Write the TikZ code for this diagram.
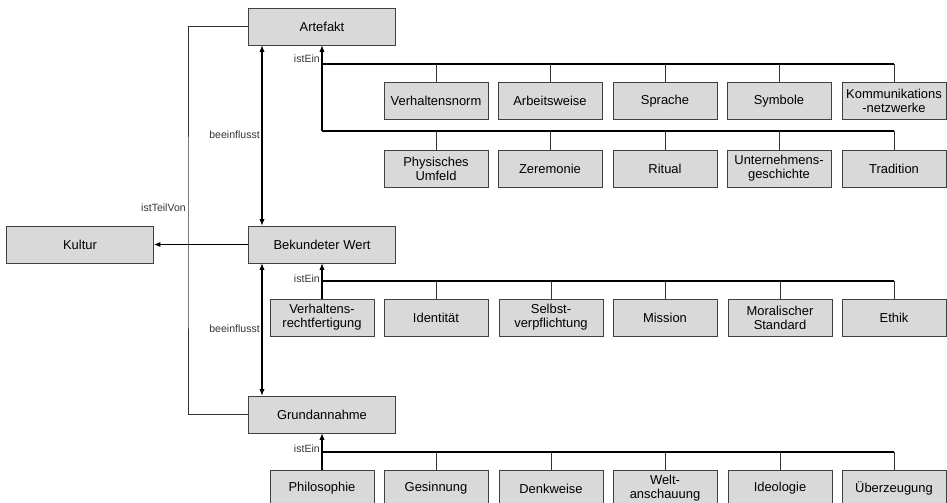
\documentclass[tikz,border=0pt]{standalone}
\usepackage{fontspec}
\setmainfont{Liberation Sans}
\usepackage{tikz}
\usetikzlibrary{arrows.meta}

\begin{document}
\begin{tikzpicture}[
			x=0.75pt,
			y=-0.75pt,
			>={Latex[length=5pt,width=4pt]},
			line join=miter,
			konzept/.style={
				draw=black!75,
				fill=black!15,
				inner sep=0pt,
				minimum width=110.25pt,
				minimum height=27.75pt,
				font=\fontsize{9.7}{10.5}\selectfont
			},
			kind/.style={
				konzept,
				minimum width=78pt,
				align=center
			},
			etikett/.style={
				inner sep=0pt,
				text=black!80,
				font=\fontsize{7.9}{9}\selectfont
			},
			bus/.style={line width=1.1pt},
			abzweig/.style={line width=0.6pt,draw=black!80},
			istein/.style={->,line width=0.8pt},
			wirkung/.style={<->,line width=0.8pt}
			]
			
			% Rahmen
			\useasboundingbox (0,0) rectangle (947,503);
			
			% Hauptkonzepte
			\node[konzept] (art) at (322,26.5) {Artefakt};
			\node[konzept] (bw) at (322,244.5) {Bekundeter Wert};
			\node[konzept] (ga) at (322,414.5) {Grundannahme};
			\node[konzept] (kul) at (80,244.5) {Kultur};
			
			% Artefakte
			\node[kind] (a1) at (436,101) {Verhaltensnorm};
			\node[kind] (a2) at (550,101) {Arbeitsweise};
			\node[kind] (a3) at (665,101) {Sprache};
			\node[kind] (a4) at (779,101) {Symbole};
			\node[kind] (a5) at (894,101) {Kommunikations\\-netzwerke};
			\node[kind] (a6) at (436,168.5) {Physisches\\Umfeld};
			\node[kind] (a7) at (550,168.5) {Zeremonie};
			\node[kind] (a8) at (665,168.5) {Ritual};
			\node[kind] (a9) at (779,168.5) {Unternehmens-\\geschichte};
			\node[kind] (a10) at (894,168.5) {Tradition};
			
			% Bekundete Werte
			\node[kind] (b1) at (322,317.5) {Verhaltens-\\rechtfertigung};
			\node[kind] (b2) at (436,317.5) {Identität};
			\node[kind] (b3) at (551,317.5) {Selbst-\\verpflichtung};
			\node[kind] (b4) at (665,317.5) {Mission};
			\node[kind] (b5) at (780,317.5) {Moralischer\\Standard};
			\node[kind] (b6) at (894,317.5) {Ethik};
			
			% Grundannahmen
			\node[kind] (g1) at (322,488.5) {Philosophie};
			\node[kind] (g2) at (436,488.5) {Gesinnung};
			\node[kind] (g3) at (551,488.5) {Denkweise};
			\node[kind] (g4) at (665,488.5) {Welt-\\anschauung};
			\node[kind] (g5) at (780,488.5) {Ideologie};
			\node[kind] (g6) at (894,488.5) {Überzeugung};
			
			% istTeilVon
			\coordinate (teil) at (188,244.5);
			\draw[line width=0.6pt,draw=black!80] (art.west) -| (teil) |- (ga.west);
			\draw[->,line width=1.2pt] (bw.west) -- (kul.east);
			\node[etikett,anchor=east] at (186,208) {istTeilVon};
			
			% beeinflusst
			\coordinate (einfluss) at (262,0);
			\draw[wirkung] (art.south -| einfluss) -- (bw.north -| einfluss);
			\draw[wirkung] (bw.south -| einfluss) -- (ga.north -| einfluss);
			\node[etikett,anchor=east] at (260,135) {beeinflusst};
			\node[etikett,anchor=east] at (260,329) {beeinflusst};
			
			% istEin: Artefakt
			\coordinate (abus1) at (322,64);
			\coordinate (abus2) at (322,131);
			\draw[istein] (abus2) -- (art.south);
			\draw[bus] (abus1) -- (abus1 -| a5);
			\draw[bus] (abus2) -- (abus2 -| a10);
			\foreach \n in {1,...,5}
			\draw[abzweig] (abus1 -| a\n) -- (a\n.north);
			\foreach \n in {6,...,10}
			\draw[abzweig] (abus2 -| a\n) -- (a\n.north);
			\node[etikett,anchor=east] at (320,59) {istEin};
			
			% istEin: Bekundeter Wert
			\coordinate (bbus) at (322,281);
			\draw[istein] (b1.north) -- (bw.south);
			\draw[bus] (bbus) -- (bbus -| b6);
			\foreach \n in {2,...,6}
			\draw[abzweig] (bbus -| b\n) -- (b\n.north);
			\node[etikett,anchor=east] at (320,279) {istEin};
			
			% istEin: Grundannahme
			\coordinate (gbus) at (322,452);
			\draw[istein] (g1.north) -- (ga.south);
			\draw[bus] (gbus) -- (gbus -| g6);
			\foreach \n in {2,...,6}
			\draw[abzweig] (gbus -| g\n) -- (g\n.north);
			\node[etikett,anchor=east] at (320,449) {istEin};
			
		\end{tikzpicture}
\end{document}
